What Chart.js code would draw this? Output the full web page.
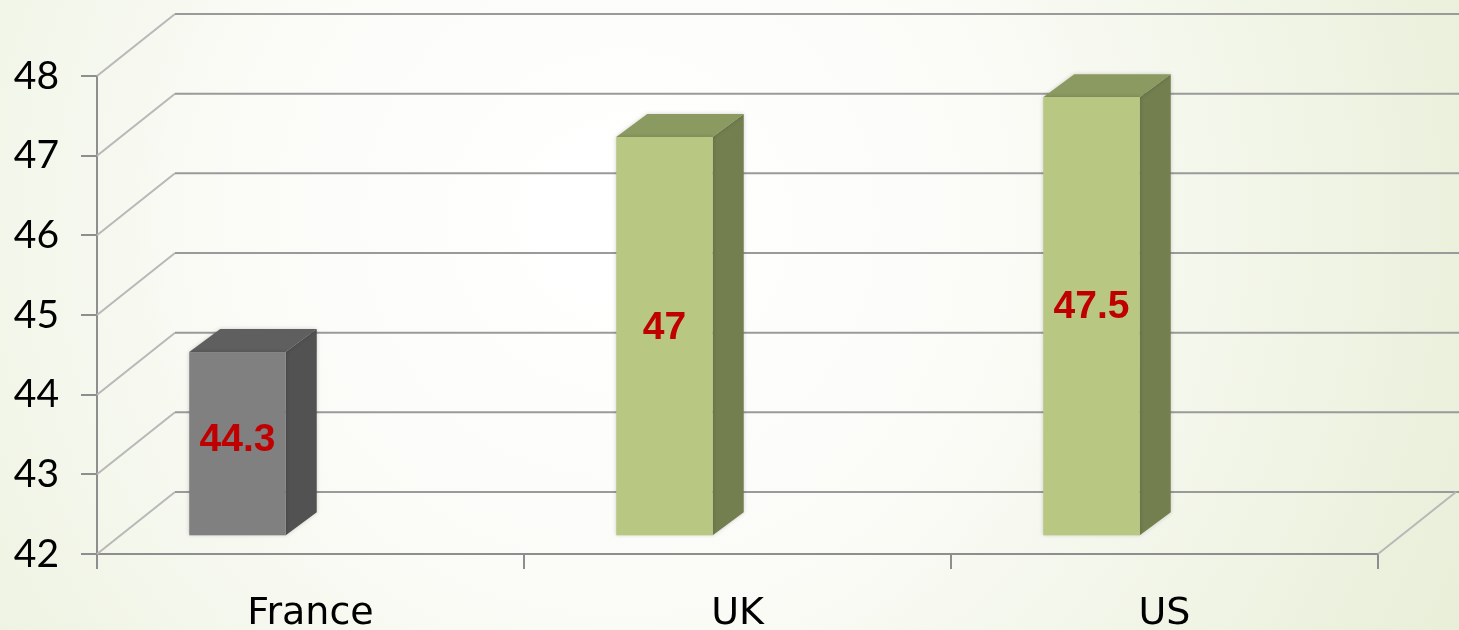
<!DOCTYPE html>
<html><head><meta charset="utf-8">
<script src="https://cdn.jsdelivr.net/npm/chart.js@4"></script>
<style>html,body{margin:0;padding:0;background:#fff;overflow:hidden}#wrap{width:1459px;height:630px;position:relative}</style>
</head><body><div id="wrap"><canvas id="c" width="1459" height="630"></canvas></div>
<script>
// ---- data ----
const categories = ['France', 'UK', 'US'];
const values = [44.3, 47, 47.5];
const valueLabels = ['44.3', '47', '47.5'];
const yMin = 42;
const yMax = 48;
const yStep = 1;

// ---- styles ----
const frontColors = ['#808080', '#b8c882', '#b8c882'];
const topColors = ['#5f5f5f', '#8a9a60', '#8a9a60'];
const sideColors = ['#525252', '#737f4f', '#737f4f'];
const axisColor = '#8e8e8e';
const wallColor = '#9a9a9a';
const diagColor = '#b8b8b8';
const wallDepth = {dx: 78, dy: -62};
const barFrontDy = -18.7;
const barDepth = {dx: 31, dy: -23};

const backgroundPlugin = {
  id: 'bg',
  beforeDraw(chart) {
    const {ctx, width, height} = chart;
    ctx.save();
    const g = ctx.createRadialGradient(620, 220, 20, 620, 220, 1000);
    g.addColorStop(0, '#ffffff');
    g.addColorStop(0.35, '#fbfcf8');
    g.addColorStop(1, '#e6edd4');
    ctx.fillStyle = g;
    ctx.fillRect(0, 0, width, height);
    ctx.restore();
  }
};

const wallsPlugin = {
  id: 'walls',
  beforeDatasetsDraw(chart) {
    const {ctx, scales: {x, y}, chartArea, width} = chart;
    ctx.save();
    ctx.lineWidth = 2;
    for (let v = yMin; v <= yMax; v += yStep) {
      const py = y.getPixelForValue(v);
      ctx.strokeStyle = diagColor;
      ctx.beginPath();
      ctx.moveTo(chartArea.left, py);
      ctx.lineTo(chartArea.left + wallDepth.dx, py + wallDepth.dy);
      ctx.stroke();
      ctx.strokeStyle = wallColor;
      ctx.beginPath();
      ctx.moveTo(chartArea.left + wallDepth.dx, py + wallDepth.dy);
      ctx.lineTo(width + 5, py + wallDepth.dy);
      ctx.stroke();
    }
    const by = y.getPixelForValue(yMin);
    ctx.strokeStyle = diagColor;
    ctx.beginPath();
    ctx.moveTo(chartArea.right, by);
    ctx.lineTo(chartArea.right + wallDepth.dx, by + wallDepth.dy);
    ctx.stroke();
    ctx.restore();
  }
};

const bars3dPlugin = {
  id: 'bars3d',
  afterDatasetsDraw(chart) {
    const {ctx, scales: {x, y}} = chart;
    const catW = x.getPixelForValue(1) - x.getPixelForValue(0);
    const bw = catW * 0.226;
    const shift = -catW * 0.171;
    ctx.save();
    values.forEach((v, i) => {
      const cx = x.getPixelForValue(i) + shift;
      const l = cx - bw / 2, r = cx + bw / 2;
      const t = y.getPixelForValue(v) + barFrontDy;
      const b = y.getPixelForValue(yMin) + barFrontDy;
      const dx = barDepth.dx, dy = barDepth.dy;
      ctx.shadowColor = 'rgba(0,0,0,0.18)';
      ctx.shadowBlur = 4;
      ctx.fillStyle = sideColors[i];
      ctx.beginPath();
      ctx.moveTo(r, t); ctx.lineTo(r + dx, t + dy); ctx.lineTo(r + dx, b + dy); ctx.lineTo(r, b);
      ctx.closePath(); ctx.fill();
      ctx.fillStyle = topColors[i];
      ctx.beginPath();
      ctx.moveTo(l, t); ctx.lineTo(r, t); ctx.lineTo(r + dx, t + dy); ctx.lineTo(l + dx, t + dy);
      ctx.closePath(); ctx.fill();
      ctx.fillStyle = frontColors[i];
      ctx.fillRect(l, t, bw, b - t);
      ctx.shadowBlur = 0;
      ctx.shadowColor = 'transparent';
      ctx.fillStyle = '#c00000';
      ctx.font = 'bold 39px "Liberation Sans", Arial, sans-serif';
      ctx.textAlign = 'center';
      ctx.textBaseline = 'middle';
      ctx.fillText(valueLabels[i], cx, t + 0.48 * (b - t));
    });
    ctx.restore();
  }
};

new Chart(document.getElementById('c'), {
  type: 'bar',
  data: {
    labels: categories,
    datasets: [{data: values, backgroundColor: 'rgba(0,0,0,0)', borderWidth: 0}]
  },
  options: {
    responsive: false,
    animation: false,
    events: [],
    layout: {padding: {top: 76, right: 81, left: 0, bottom: 0}},
    plugins: {legend: {display: false}, tooltip: {enabled: false}},
    scales: {
      y: {
        min: yMin, max: yMax,
        ticks: {stepSize: yStep, color: '#000', font: {family: 'Lato', size: 39}, padding: 22},
        grid: {drawOnChartArea: false, drawTicks: true, tickLength: 16, color: axisColor, lineWidth: 2},
        border: {display: true, color: axisColor, width: 2},
        afterFit(s) { s.width = 97; }
      },
      x: {
        offset: true,
        ticks: {color: '#000', font: {family: 'DejaVu Sans', size: 38}, padding: 22},
        grid: {drawOnChartArea: false, offset: true, drawTicks: true, tickLength: 15, color: axisColor, lineWidth: 2},
        border: {display: true, color: axisColor, width: 2},
        afterFit(s) { s.height = 76; }
      }
    }
  },
  plugins: [backgroundPlugin, wallsPlugin, bars3dPlugin]
});
</script>
</body></html>
